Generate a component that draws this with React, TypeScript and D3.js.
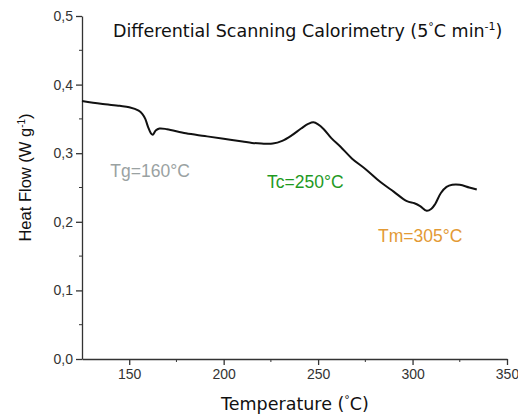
import React, { useEffect, useRef } from "react";
import * as d3 from "d3";

// DSC curve
const temperature = [
  125, 135, 145, 150, 155, 157, 158.5, 160, 161.5, 162.5, 164, 166, 170, 180,
  190, 200, 210, 215, 220, 226, 231, 236, 241, 245, 247.5, 250, 253, 257, 262,
  268, 275, 283, 290, 297, 301, 304, 307.5, 310, 312, 315, 318, 321, 325, 330,
  334,
];
const heatFlow = [
  0.376, 0.372, 0.369, 0.367, 0.362, 0.357, 0.35, 0.338, 0.329, 0.327, 0.333,
  0.336, 0.335, 0.329, 0.325, 0.321, 0.317, 0.315, 0.314, 0.314, 0.318, 0.326,
  0.336, 0.343, 0.345, 0.342, 0.335, 0.322, 0.309, 0.292, 0.277, 0.258, 0.244,
  0.23, 0.227, 0.223, 0.216, 0.219, 0.226, 0.242, 0.251, 0.254, 0.254, 0.25,
  0.247,
];

const xMajor = [150, 200, 250, 300, 350];
const xMinor = [175, 225, 275, 325];
const yMajor = [0, 0.1, 0.2, 0.3, 0.4, 0.5];
const yMinor = [0.05, 0.15, 0.25, 0.35, 0.45];

const annotations = [
  { label: "Tg=160°C", t: 140, v: 0.265, color: "#9aa2a2" },
  { label: "Tc=250°C", t: 223, v: 0.25, color: "#1f9a1f" },
  { label: "Tm=305°C", t: 281.7, v: 0.17, color: "#e39a35" },
];

const App: React.FC = () => {
  const svgRef = useRef<SVGSVGElement>(null);

  useEffect(() => {
    const svg = d3.select(svgRef.current);
    svg.selectAll("*").remove();

    const x = d3.scaleLinear().domain([125, 350]).range([82, 507]);
    const y = d3.scaleLinear().domain([0, 0.5]).range([359, 16]);
    const axisColor = "#333";
    const sans = "'Liberation Sans', Arial, sans-serif";
    const titleFont = "'DejaVu Sans', Verdana, sans-serif";

    // ejes
    const gx = svg.append("g").attr("transform", `translate(0,${y(0)})`);
    gx.call(
      d3.axisBottom(x).tickValues(xMajor).tickSize(6).tickSizeOuter(0).tickFormat(d3.format("d"))
    );
    gx.selectAll(".minor")
      .data(xMinor)
      .enter()
      .append("line")
      .attr("x1", (d) => x(d))
      .attr("x2", (d) => x(d))
      .attr("y1", 0)
      .attr("y2", 3)
      .attr("stroke", axisColor);

    const gy = svg.append("g").attr("transform", `translate(${x(125)},0)`);
    gy.call(
      d3
        .axisLeft(y)
        .tickValues(yMajor)
        .tickSize(6)
        .tickSizeOuter(0)
        .tickFormat((d) => d3.format(".1f")(d as number).replace(".", ","))
    );
    gy.selectAll(".minor")
      .data(yMinor)
      .enter()
      .append("line")
      .attr("x1", 0)
      .attr("x2", -3)
      .attr("y1", (d) => y(d))
      .attr("y2", (d) => y(d))
      .attr("stroke", axisColor);

    svg
      .selectAll(".domain, .tick line")
      .attr("stroke", axisColor)
      .attr("stroke-width", 1.3);
    svg
      .selectAll(".tick text")
      .attr("fill", axisColor)
      .style("font-family", sans)
      .style("font-size", "14px");
    gy.selectAll(".tick text").attr("x", -9);
    gx.selectAll(".tick text").attr("y", 10);

    // curva
    const pts = temperature.map((t, i) => [t, heatFlow[i]] as [number, number]);
    const line = d3
      .line<[number, number]>()
      .x((d) => x(d[0]))
      .y((d) => y(d[1]))
      .curve(d3.curveCatmullRom.alpha(0.5));
    svg
      .append("path")
      .datum(pts)
      .attr("d", line)
      .attr("fill", "none")
      .attr("stroke", "#111")
      .attr("stroke-width", 2);

    // anotaciones
    svg
      .selectAll(".ann")
      .data(annotations)
      .enter()
      .append("text")
      .attr("x", (d) => x(d.t))
      .attr("y", (d) => y(d.v))
      .attr("fill", (d) => d.color)
      .style("font-family", sans)
      .style("font-size", "17.5px")
      .text((d) => d.label);

    // titulo
    const title = svg
      .append("text")
      .attr("x", 113)
      .attr("y", 37)
      .attr("fill", "#111")
      .style("font-family", titleFont)
      .style("font-size", "17.5px");
    title.append("tspan").text("Differential Scanning Calorimetry (5");
    title.append("tspan").attr("dy", -7).style("font-size", "11px").text("°");
    title.append("tspan").attr("dy", 7).text("C min");
    title.append("tspan").attr("dy", -7).style("font-size", "11px").text("-1");
    title.append("tspan").attr("dy", 7).text(")");

    // etiqueta eje x
    const xl = svg
      .append("text")
      .attr("x", 295)
      .attr("y", 410)
      .attr("text-anchor", "middle")
      .attr("fill", "#111")
      .style("font-family", titleFont)
      .style("font-size", "17.5px");
    xl.append("tspan").text("Temperature (");
    xl.append("tspan").attr("dy", -7).style("font-size", "11px").text("°");
    xl.append("tspan").attr("dy", 7).text("C)");

    // etiqueta eje y
    const yl = svg
      .append("text")
      .attr("transform", `translate(31,${(120 + 235) / 2}) rotate(-90)`)
      .attr("text-anchor", "middle")
      .attr("fill", "#111")
      .style("font-family", sans)
      .style("font-size", "16.5px");
    yl.append("tspan").text("Heat Flow (W g");
    yl.append("tspan").attr("dy", -6).style("font-size", "10px").text("-1");
    yl.append("tspan").attr("dy", 6).text(")");
  }, []);

  return (
    <svg
      ref={svgRef}
      width={518}
      height={416}
      style={{ position: "absolute", left: 0, top: 0, background: "#fff" }}
    ></svg>
  );
};

export default App;
